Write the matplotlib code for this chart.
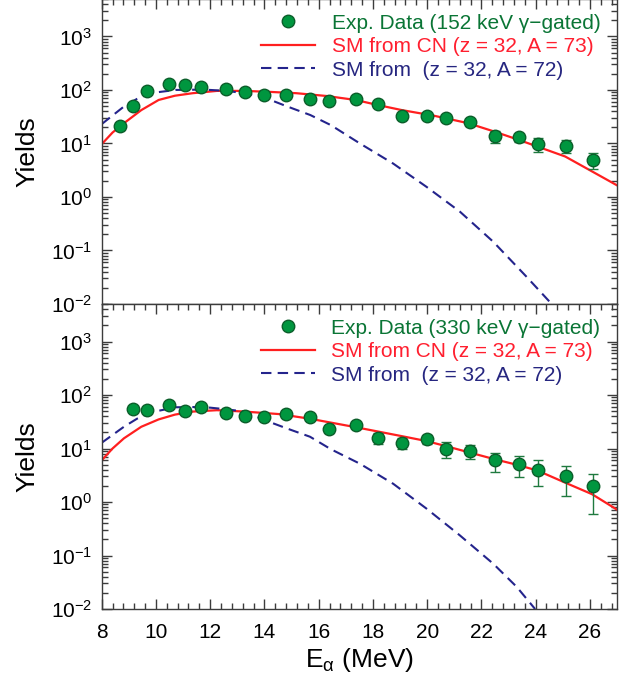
import matplotlib
matplotlib.use('Agg')
import matplotlib.pyplot as plt
from matplotlib.ticker import LogLocator, MultipleLocator, NullFormatter

plt.rcParams['font.family'] = ['Liberation Sans', 'DejaVu Sans']

# ---- top panel: 152 keV gate ----
e_top = [8.67, 9.17, 9.68, 10.48, 11.08, 11.66, 12.59, 13.29, 14.0, 14.79, 15.69, 16.39,
         17.38, 18.2, 19.08, 19.98, 20.7, 21.59, 22.5, 23.4, 24.09, 25.11, 26.1]
y_top = [21, 51, 97, 128, 122, 115, 106, 92, 82, 80, 69, 63,
         67, 55, 33, 33, 30, 25, 13.8, 13, 9.9, 9.1, 5.0]
err_top = [3, 5, 8, 10, 10, 9, 8, 7, 6, 5, 5, 5,
           5, 4, 4, 4, 4, 4, 3.6, 2.2, 3.0, 2.6, 1.6]

red_e_top = [8.0, 8.4, 8.82, 9.46, 10.1, 10.7, 11.36, 12.25, 13.27, 14.2, 15.17, 16.3,
             17.36, 18.2, 19.07, 20.25, 21.5, 22.49, 23.39, 24.08, 25.09, 26.08, 27.0]
red_y_top = [9.7, 16, 23.9, 42, 65, 78, 87, 96, 96, 92, 87, 77,
             65, 52, 42, 33, 24, 16.6, 11.6, 8.7, 5.7, 3.0, 1.65]

blue_e_top = [8.0, 8.82, 9.3, 9.78, 10.73, 11.4, 12.0, 12.6, 13.27, 14.0, 14.8, 15.69,
              16.45, 17.52, 18.75, 19.98, 21.21, 22.44, 23.67, 24.59]
blue_y_top = [23, 49, 68, 87, 100, 101, 100, 96, 87, 72, 50, 34,
              22, 10.0, 4.2, 1.54, 0.53, 0.145, 0.032, 0.01]

# ---- bottom panel: 330 keV gate ----
e_bot = [9.17, 9.68, 10.48, 11.08, 11.66, 12.59, 13.29, 14.0, 14.79, 15.69, 16.39,
         17.38, 18.2, 19.08, 19.98, 20.7, 21.59, 22.5, 23.4, 24.09, 25.11, 26.1]
y_bot = [55, 52, 64, 51, 60, 47, 41, 39, 45, 38, 22.8,
         27, 15.9, 12.8, 15, 9.9, 9.0, 6.0, 5.1, 4.0, 3.0, 2.0]
err_bot = [4, 4, 5, 4, 5, 4, 3.5, 3.5, 4, 3.5, 3,
           3, 3.5, 3, 3, 3.3, 2.7, 2.4, 2.2, 2.0, 1.7, 1.4]

red_e_bot = [8.0, 8.4, 8.82, 9.46, 10.1, 10.7, 11.36, 12.25, 13.27, 14.54, 15.68, 17.37,
             19.07, 19.97, 20.69, 21.57, 22.49, 23.39, 24.08, 25.09, 26.08, 27.0]
red_y_bot = [6.0, 10, 15.5, 25.5, 35, 43, 49, 52, 49, 44, 36, 25,
             17, 13.8, 11.1, 8.4, 6.3, 4.85, 3.85, 2.3, 1.4, 0.72]

blue_e_bot = [8.0, 8.82, 9.3, 9.78, 10.73, 11.4, 12.0, 12.6, 13.27, 14.0, 14.8, 15.68,
              16.45, 17.52, 18.75, 19.98, 21.21, 22.44, 23.3, 23.98]
blue_y_bot = [12.8, 25.5, 36, 47, 59, 59.5, 58, 54, 49, 34, 24, 16.6,
              9.7, 5.2, 2.19, 0.75, 0.237, 0.07, 0.026, 0.01]

labels_top = ['Exp. Data (152 keV \u03b3\u2212gated)', 'SM from CN (z = 32, A = 73)',
              'SM from  (z = 32, A = 72)']
labels_bot = ['Exp. Data (330 keV \u03b3\u2212gated)', 'SM from CN (z = 32, A = 73)',
              'SM from  (z = 32, A = 72)']

GREEN = '#00963f'
GREEN_DARK = '#0b5e2a'
RED = '#ff1f1f'
BLUE = '#24248c'
AXC = '#3c3c3c'


def draw_panel(ax, e, y, err, re, ry, be, by, labels, xlabels):
    ax.errorbar(e, y, yerr=err, fmt='none', ecolor='#1f7a3f', elinewidth=1.0,
                capsize=3.6, capthick=1.0, zorder=3)
    ax.plot(re, ry, '-', color=RED, lw=1.6, label=labels[1], zorder=2)
    ax.plot(be, by, '--', color=BLUE, lw=1.5, dashes=(5, 3), label=labels[2], zorder=2)
    ax.plot(e, y, 'o', ms=9, mfc=GREEN, mec=GREEN_DARK, mew=1.0,
            label=labels[0], zorder=4)

    ax.set_yscale('log')
    ax.set_xlim(8, 27)
    ax.set_ylim(1e-2, 5e3)
    ax.xaxis.set_major_locator(MultipleLocator(2))
    ax.xaxis.set_minor_locator(MultipleLocator(0.4))
    ax.yaxis.set_major_locator(LogLocator(base=10, numticks=20))
    ax.yaxis.set_minor_locator(LogLocator(base=10, subs=range(2, 10), numticks=20))
    ax.yaxis.set_minor_formatter(NullFormatter())

    ax.tick_params(which='both', direction='in', color=AXC, width=1.0,
                   top=True, right=True, labelsize=15, pad=7)
    ax.tick_params(axis='x', which='major', pad=10)
    ax.tick_params(which='major', length=7)
    ax.tick_params(which='minor', length=4)
    if not xlabels:
        ax.tick_params(which='both', labelbottom=False, bottom=False)
    for s in ax.spines.values():
        s.set_color(AXC)
        s.set_linewidth(1.0)

    ax.set_ylabel('Yields', fontsize=19, labelpad=8)

    h, l = ax.get_legend_handles_labels()
    order = [2, 0, 1]
    leg = ax.legend([h[i] for i in order], [l[i] for i in order],
                    loc='upper right', bbox_to_anchor=(0.99, 0.99), frameon=False,
                    fontsize=15, handlelength=2.6, handletextpad=0.8,
                    labelspacing=0.22, borderaxespad=0.15, numpoints=1)
    for t, c in zip(leg.get_texts(), ['#0a7535', '#ff1f2f', '#262680']):
        t.set_color(c)


fig = plt.figure(figsize=(6.38, 6.82), dpi=100)
ax1 = fig.add_axes([0.1594, 0.5543, 0.8077, 0.4471])
ax2 = fig.add_axes([0.1594, 0.1070, 0.8077, 0.4471])

draw_panel(ax1, e_top, y_top, err_top, red_e_top, red_y_top, blue_e_top, blue_y_top,
           labels_top, False)
draw_panel(ax2, e_bot, y_bot, err_bot, red_e_bot, red_y_bot, blue_e_bot, blue_y_bot,
           labels_bot, True)

ax2.set_xlabel(r'E$_\mathregular{\alpha}$ (MeV)', fontsize=19, labelpad=3)

fig.savefig('out.png', dpi=100)
